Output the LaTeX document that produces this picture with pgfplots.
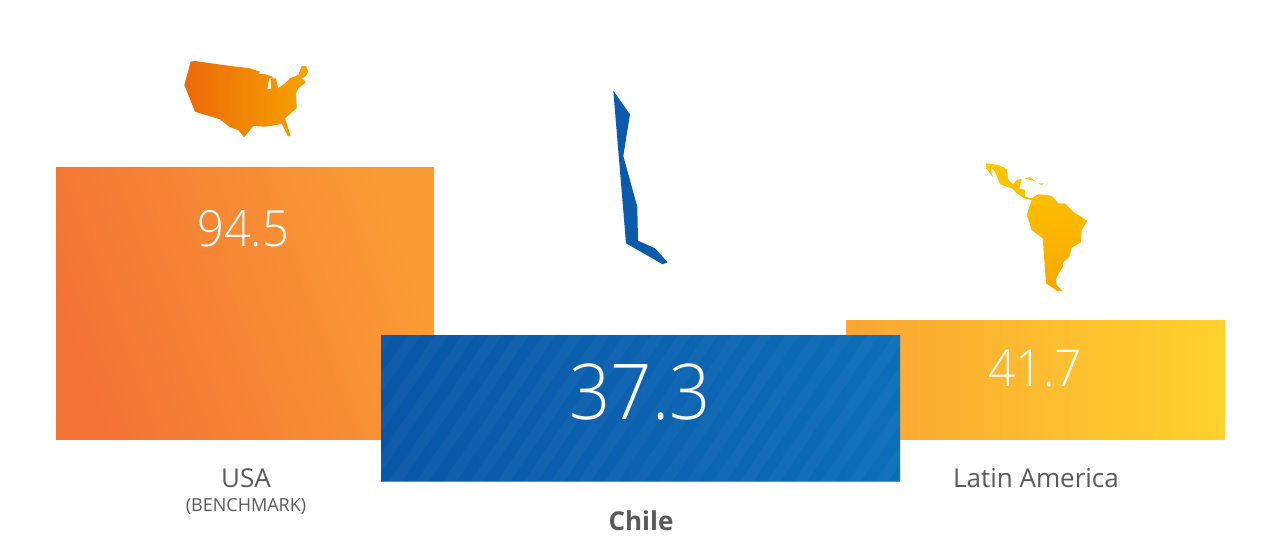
\documentclass[border=0pt]{standalone}
\usepackage{pgfplots}
\pgfplotsset{compat=1.18}
\usepackage{fontspec}
\setmainfont{Open Sans}
\newfontfamily\lightfont[FakeStretch=0.94]{Open Sans Light}

\definecolor{usaL}{HTML}{F37335}
\definecolor{usaR}{HTML}{FA9C34}
\definecolor{latL}{HTML}{FAA534}
\definecolor{latR}{HTML}{FFD22C}
\definecolor{chiL}{HTML}{0956A7}
\definecolor{chiR}{HTML}{0D6EB8}
\definecolor{chiEdge}{HTML}{5A93CC}
\definecolor{mapUsaL}{HTML}{EB6A08}
\definecolor{mapUsaR}{HTML}{F8A200}
\definecolor{mapLatT}{HTML}{FFC600}
\definecolor{mapLatB}{HTML}{F9A800}
\definecolor{mapChi}{HTML}{0B5AAB}
\definecolor{labelgrey}{HTML}{5A5A5A}

\pgfplotsset{pixels/.style={
    width=1280pt, height=554pt, scale only axis,
    xmin=0, xmax=1280, ymin=0, ymax=554,
    y dir=reverse,
    hide axis
}}

\begin{document}
\begin{tikzpicture}
\useasboundingbox (0,0) rectangle (1280pt,554pt);
\begin{axis}[pixels]
% bars, in picture pixels
\addplot[draw=none, left color=usaL, right color=usaR, shading angle=110] coordinates {(56,167) (434,167) (434,439) (56,439)} --cycle;
\addplot[draw=none, left color=latL, right color=latR] coordinates {(846,320.5) (1225,320.5) (1225,439) (846,439)} --cycle;
\addplot[draw=none, left color=chiL, right color=chiR] coordinates {(381,335) (900,335) (900,481.5) (381,481.5)} --cycle;
% maps
\addplot[draw=none, left color=mapUsaL, right color=mapUsaR] coordinates {
 (190.7,61.7) (195,61) (223.3,65) (250,68.3) (260,71.7) (258.3,74) (265,74) (274,77.3)
 (269.3,78.3) (267.3,89.3) (271,89) (270.7,78.3) (276,78.3) (278.3,88.3) (285,83.3)
 (290,78.3) (298.3,75) (301.7,66) (306,66) (308.3,71.7) (305,76.7) (301.7,78.3)
 (306,82.3) (298.3,88.3) (296,93.3) (296.7,108.3) (285,118.3) (290.7,136) (287.7,136)
 (281.7,123.3) (276.7,125) (265,126.7) (253.3,126) (244,137.3) (238.3,130) (230,127.3)
 (220,119.3) (195,111.7) (184.3,85)} --cycle;
\addplot[draw=none, fill=mapChi] coordinates {
 (613.3,90.7) (630,114.3) (623.3,156) (637.3,206.7) (638,240.7) (655,248.3)
 (667.7,262.3) (662.7,264.3) (626,243.3)} --cycle;
\addplot[draw=none, top color=mapLatT, bottom color=mapLatB] coordinates {
 (986,163.3) (998.3,165) (1006.7,169) (1008.3,180) (1013.3,184.3) (1016.7,180) (1021.7,179)
 (1019.3,188.3) (1025,190) (1025,196.7) (1031.7,198.3) (1038.3,194.3) (1051.7,195.7)
 (1058.3,203.3) (1065,203.3) (1073.3,211.7) (1087.3,221) (1081.7,230) (1080.7,242.3)
 (1071.7,247.7) (1069.3,256.7) (1063.3,262.3) (1062.7,266.7) (1056,278.3) (1056.7,285)
 (1062.7,291) (1057.3,291) (1046,283.3) (1042.7,238.3) (1031.7,230) (1026.7,215)
 (1031.7,200) (1025,199) (1018.3,194.3) (1011.7,188.3) (1000,184.3) (995,171.7)
 (990.7,166.7) (992.7,176.7) (986.7,169)} --cycle;
\addplot[draw=none, fill=mapLatT] coordinates {(1025,178.3) (1029.3,177) (1036,181.7) (1031.7,180.3)} --cycle;
\addplot[draw=none, fill=mapLatT] coordinates {(1038.3,183.3) (1044,183.3) (1041.7,185)} --cycle;
\end{axis}
% stripes: one comb polygon, its ends clipped by this axis, which is just the Chile bar
\begin{axis}[
    at={(381pt,72.5pt)}, width=519pt, height=146.5pt, scale only axis,
    xmin=381, xmax=900, ymin=335, ymax=481.5, y dir=reverse, hide axis
]
\addplot[draw=none, fill=white, fill opacity=0.03] coordinates {
 (281,481.5) (381,335) (394,335) (294,481.5)
 (308,481.5) (408,335) (421,335) (321,481.5)
 (335,481.5) (435,335) (448,335) (348,481.5)
 (362,481.5) (462,335) (475,335) (375,481.5)
 (389,481.5) (489,335) (502,335) (402,481.5)
 (416,481.5) (516,335) (529,335) (429,481.5)
 (443,481.5) (543,335) (556,335) (456,481.5)
 (470,481.5) (570,335) (583,335) (483,481.5)
 (497,481.5) (597,335) (610,335) (510,481.5)
 (524,481.5) (624,335) (637,335) (537,481.5)
 (551,481.5) (651,335) (664,335) (564,481.5)
 (578,481.5) (678,335) (691,335) (591,481.5)
 (605,481.5) (705,335) (718,335) (618,481.5)
 (632,481.5) (732,335) (745,335) (645,481.5)
 (659,481.5) (759,335) (772,335) (672,481.5)
 (686,481.5) (786,335) (799,335) (699,481.5)
 (713,481.5) (813,335) (826,335) (726,481.5)
 (740,481.5) (840,335) (853,335) (753,481.5)
 (767,481.5) (867,335) (880,335) (780,481.5)
 (794,481.5) (894,335) (907,335) (807,481.5)
 (821,481.5) (921,335) (934,335) (834,481.5)
 (848,481.5) (948,335) (961,335) (861,481.5)
 (875,481.5) (975,335) (988,335) (888,481.5)
} --cycle;
\end{axis}
\begin{axis}[pixels]
\addplot[draw=none, fill=chiEdge] coordinates {(381,480.5) (900,480.5) (900,481.5) (381,481.5)} --cycle;
% values
\node[text=white] at (axis cs:243,229) {\lightfont\fontsize{50}{50}\selectfont 94.5};
\node[text=white] at (axis cs:640,392) {\lightfont\fontsize{77}{77}\selectfont 37.3};
\node[text=white] at (axis cs:1035,368) {\lightfont\fontsize{51}{51}\selectfont 41.7};
% labels
\node[text=labelgrey] at (axis cs:246,478) {\fontsize{26}{26}\selectfont USA};
\node[text=labelgrey] at (axis cs:246,506) {\fontsize{18}{18}\selectfont (BENCHMARK)};
\node[text=labelgrey] at (axis cs:1036,478) {\fontsize{26}{26}\selectfont Latin America};
\node[text=labelgrey] at (axis cs:641,521) {\fontsize{26}{26}\selectfont\bfseries Chile};
\end{axis}
\end{tikzpicture}
\end{document}
